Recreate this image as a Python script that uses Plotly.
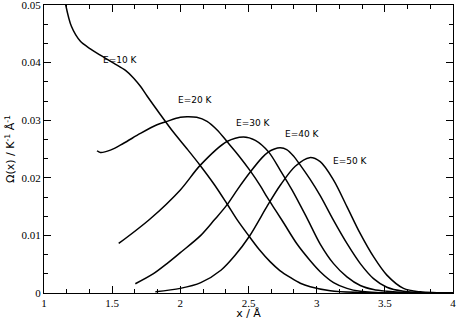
import plotly.graph_objects as go

# Omega(x) curves, one per energy
x_e10 = [1.155, 1.201, 1.267, 1.340, 1.413, 1.511, 1.600, 1.658, 1.710, 1.756, 1.853, 1.950,
         2.050, 2.147, 2.250, 2.342, 2.420, 2.506, 2.580, 2.660, 2.730, 2.806, 2.880, 2.953,
         3.100, 3.300, 3.600, 4.0]
y_e10 = [0.0505, 0.0463, 0.0437, 0.0424, 0.0413, 0.0399, 0.0386, 0.0373, 0.0358, 0.0342, 0.0310, 0.0279,
         0.0250, 0.0221, 0.0188, 0.0155, 0.0126, 0.0098, 0.0075, 0.0054, 0.0039, 0.0027, 0.0017, 0.0011,
         0.0004, 0.0001, 0.0, 0.0]

x_e20 = [1.389, 1.413, 1.487, 1.584, 1.707, 1.829, 1.902, 2.000, 2.049, 2.120, 2.196,
         2.270, 2.342, 2.430, 2.513, 2.587, 2.640, 2.700, 2.757, 2.856, 2.953, 3.026, 3.124, 3.222,
         3.320, 3.540, 4.0]
y_e20 = [0.0247, 0.0244, 0.0248, 0.0260, 0.0277, 0.0292, 0.0298, 0.0305, 0.0306, 0.0305, 0.0298,
         0.0283, 0.0263, 0.0238, 0.0212, 0.0186, 0.0165, 0.0143, 0.0122, 0.0085, 0.0056, 0.0037, 0.0018, 0.0008,
         0.0003, 0.0, 0.0]

x_e30 = [1.548, 1.780, 2.000, 2.147, 2.342, 2.464, 2.550, 2.647, 2.733, 2.819, 2.929,
         3.026, 3.124, 3.222, 3.320, 3.417, 3.515, 3.690, 4.0]
y_e30 = [0.0086, 0.0129, 0.0179, 0.0222, 0.0263, 0.0271, 0.0265, 0.0245, 0.0213, 0.0179, 0.0130,
         0.0085, 0.0051, 0.0028, 0.0013, 0.0006, 0.0003, 0.0, 0.0]

x_e40 = [1.670, 1.800, 1.902, 2.000, 2.150, 2.250, 2.342, 2.420, 2.513, 2.600, 2.647, 2.690,
         2.733, 2.780, 2.830, 2.880, 2.950, 3.026, 3.124, 3.222, 3.320, 3.417, 3.515, 3.637,
         3.830, 4.0]
y_e40 = [0.0016, 0.0033, 0.0051, 0.0070, 0.0100, 0.0127, 0.0153, 0.0180, 0.0210, 0.0235, 0.0245, 0.0250,
         0.0252, 0.0249, 0.0238, 0.0222, 0.0198, 0.0169, 0.0126, 0.0086, 0.0051, 0.0025, 0.0010, 0.0003,
         0.0, 0.0]

x_e50 = [1.817, 2.000, 2.150, 2.300, 2.400, 2.508, 2.640, 2.733, 2.843, 2.948, 3.026,
         3.124, 3.222, 3.320, 3.417, 3.515, 3.637, 3.760, 4.0]
y_e50 = [0.0002, 0.0008, 0.0018, 0.0040, 0.0065, 0.0099, 0.0152, 0.0187, 0.0220, 0.0235, 0.0228,
         0.0196, 0.0150, 0.0103, 0.0063, 0.0031, 0.0008, 0.0002, 0.0]

labels = ["E=10 K", "E=20 K", "E=30 K", "E=40 K", "E=50 K"]
label_x = [1.560, 2.110, 2.535, 2.894, 3.250]
label_y = [0.0405, 0.0335, 0.0296, 0.02755, 0.02285]

y_ticks = [0, 0.01, 0.02, 0.03, 0.04, 0.05]
y_ticktext = ["0", "0.01", "0.02", "0.03", "0.04", "0.05"]

series = [(x_e10, y_e10), (x_e20, y_e20), (x_e30, y_e30), (x_e40, y_e40), (x_e50, y_e50)]

fig = go.Figure()
for (xs, ys), name in zip(series, labels):
    fig.add_trace(go.Scatter(x=xs, y=ys, mode="lines", name=name,
                             line=dict(color="black", width=1.5, shape="spline", smoothing=0.9)))

for t, lx, ly in zip(labels, label_x, label_y):
    fig.add_annotation(x=lx, y=ly, text=t, showarrow=False,
                       font=dict(family="DejaVu Sans", size=9, color="black"))

axis_common = dict(showline=True, linecolor="black", linewidth=1, mirror="allticks",
                   ticks="inside", ticklen=7, tickcolor="black", showgrid=False, zeroline=False,
                   ticklabeloverflow="allow",
                   tickfont=dict(family="Liberation Serif", size=11, color="black"))

fig.update_xaxes(range=[1, 4], dtick=0.5, tick0=1,
                 minor=dict(dtick=0.5 / 3, ticks="inside", ticklen=4, tickcolor="black", showgrid=False),
                 title=dict(text="x / Å", font=dict(family="DejaVu Sans", size=11, color="black"), standoff=2),
                 **axis_common)
fig.update_yaxes(range=[0, 0.05], tickmode="array", tickvals=y_ticks, ticktext=y_ticktext,
                 minor=dict(dtick=0.01 / 3, tick0=0, ticks="inside", ticklen=4, tickcolor="black", showgrid=False),
                 title=dict(text="Ω(x) / K<sup>-1</sup> Å<sup>-1</sup>",
                            font=dict(family="DejaVu Sans", size=11, color="black"), standoff=4),
                 **axis_common)

fig.update_layout(width=457, height=320, showlegend=False,
                  font=dict(color="black"),
                  margin=dict(l=44, r=4, t=5, b=27, autoexpand=False),
                  plot_bgcolor="white", paper_bgcolor="white")

# drop the page's default body margin so the figure sits at the window's corner
fig.write_html("out.html", config={"displayModeBar": False},
               post_script="document.body.style.margin='0';")
